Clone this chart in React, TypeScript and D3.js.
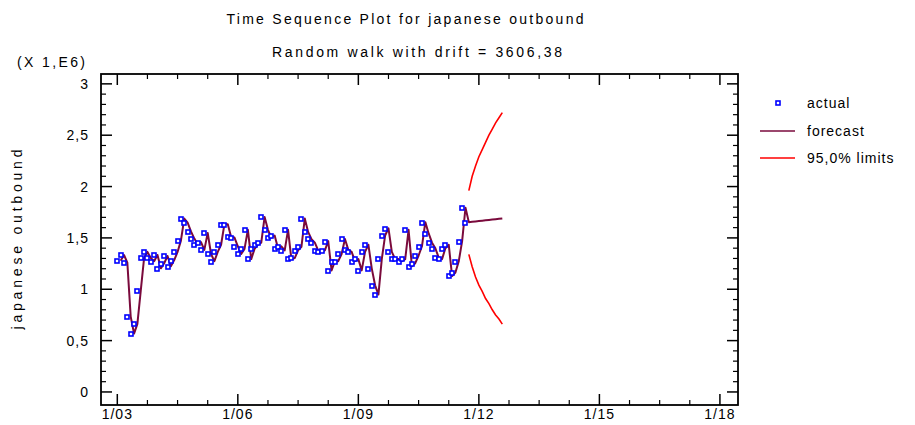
import React from "react";
import * as d3 from "d3";

// Monthly Japanese outbound travellers (millions), Jan 2003 – Sep 2011
const actual: number[] = [
  1.275, 1.33, 1.255, 0.73, 0.565, 0.66, 0.98, 1.3, 1.36, 1.3, 1.27, 1.33,
  1.2, 1.25, 1.32, 1.22, 1.28, 1.36, 1.47, 1.685, 1.645, 1.56, 1.49, 1.435,
  1.455, 1.38, 1.545, 1.34, 1.27, 1.36, 1.43, 1.63, 1.63, 1.505, 1.5, 1.415,
  1.34, 1.39, 1.575, 1.29, 1.39, 1.43, 1.45, 1.7, 1.575, 1.5, 1.52, 1.395,
  1.415, 1.375, 1.575, 1.29, 1.3, 1.375, 1.41, 1.685, 1.555, 1.485, 1.45, 1.375,
  1.36, 1.375, 1.465, 1.18, 1.27, 1.27, 1.34, 1.485, 1.38, 1.36, 1.27, 1.29,
  1.18, 1.36, 1.43, 1.2, 1.035, 0.945, 1.29, 1.52, 1.59, 1.36, 1.29, 1.29,
  1.27, 1.29, 1.575, 1.22, 1.25, 1.325, 1.415, 1.65, 1.54, 1.45, 1.395, 1.305,
  1.29, 1.395, 1.43, 1.125, 1.16, 1.27, 1.465, 1.79, 1.65,
];

// Random walk with drift (per month, in persons)
const drift = 3606.38;
const horizon = 11;

// 95% limits for the forecast months (millions)
const upperLimit: number[] = [1.96, 2.1, 2.2, 2.29, 2.36, 2.43, 2.5, 2.56, 2.62, 2.67, 2.72];
const lowerLimit: number[] = [1.34, 1.22, 1.12, 1.04, 0.98, 0.91, 0.86, 0.8, 0.75, 0.71, 0.66];

// x tick labels: January of every third year, months counted from Jan 2003
const xTickMonths: number[] = [0, 36, 72, 108, 144, 180];
const xTickLabels: string[] = ["1/03", "1/06", "1/09", "1/12", "1/15", "1/18"];
const yTicks: number[] = [0, 0.5, 1, 1.5, 2, 2.5, 3];

const legendItems: string[] = ["actual", "forecast", "95,0% limits"];

const FONT = "'Liberation Sans', Arial, Helvetica, sans-serif";
const BLUE = "#0000ff";
const MAROON = "#7a0a3c";
const RED = "#ff0000";

export default function App() {
  const W = 915;
  const H = 425;
  const left = 101;
  const right = 738;
  const top = 74;
  const bottom = 405;

  const x = d3.scaleLinear().domain([-4.87, 185.4]).range([left, right]);
  const y = d3.scaleLinear().domain([-0.127, 3.096]).range([bottom, top]);

  const d = drift / 1e6;
  const n = actual.length;

  // one-step-ahead forecasts over the history, then the forecast horizon
  const fitted: [number, number][] = [];
  for (let i = 1; i < n; i++) fitted.push([i, actual[i - 1] + d]);
  for (let k = 1; k <= horizon; k++) fitted.push([n - 1 + k, actual[n - 1] + k * d]);

  const upper: [number, number][] = upperLimit.map((v, k) => [n + k, v]);
  const lower: [number, number][] = lowerLimit.map((v, k) => [n + k, v]);

  const line = d3
    .line<[number, number]>()
    .x((p) => x(p[0]))
    .y((p) => y(p[1]));

  const yMinor = d3.range(0, 3.0001, 0.1).filter((v) => Math.abs(v * 2 - Math.round(v * 2)) > 1e-6);
  const xMinor = d3.range(9, 181, 9).filter((m) => m % 36 !== 0);

  const fmt = (v: number) => (Number.isInteger(v) ? String(v) : String(v).replace(".", ","));

  const majorLen = 11;
  const minorLen = 5;

  const legendRows = [103, 131, 158];

  return (
    <svg width={W} height={H} style={{ display: "block", position: "absolute", left: 0, top: 0 }}>
      <rect width={W} height={H} fill="#ffffff" />

      {/* titles */}
      <text x={405} y={24} fontFamily={FONT} fontSize={14} textAnchor="middle" textLength={357} lengthAdjust="spacing" fill="#000">
        Time Sequence Plot for japanese outbound
      </text>
      <text x={417} y={57} fontFamily={FONT} fontSize={14} textAnchor="middle" textLength={290} lengthAdjust="spacing" fill="#000">
        Random walk with drift = 3606,38
      </text>
      <text x={17} y={67} fontFamily={FONT} fontSize={14} textLength={68} lengthAdjust="spacing" fill="#000">
        (X 1,E6)
      </text>

      {/* y axis title */}
      <text
        transform={`translate(22,${(top + bottom) / 2}) rotate(-90)`}
        fontFamily={FONT}
        fontSize={14}
        textAnchor="middle"
        textLength={180}
        lengthAdjust="spacing"
        fill="#000"
      >
        japanese outbound
      </text>

      {/* y ticks and labels */}
      {yTicks.map((v) => (
        <g key={`y${v}`}>
          <line x1={left} x2={left + majorLen} y1={y(v)} y2={y(v)} stroke="#000" strokeWidth={1.5} />
          <line x1={right} x2={right - majorLen} y1={y(v)} y2={y(v)} stroke="#000" strokeWidth={1.5} />
          <text x={89} y={y(v) + 5} fontFamily={FONT} fontSize={14} textAnchor="end" letterSpacing={1} fill="#000">
            {fmt(v)}
          </text>
        </g>
      ))}
      {yMinor.map((v) => (
        <g key={`ym${v}`}>
          <line x1={left} x2={left + minorLen} y1={y(v)} y2={y(v)} stroke="#000" strokeWidth={1.2} />
          <line x1={right} x2={right - minorLen} y1={y(v)} y2={y(v)} stroke="#000" strokeWidth={1.2} />
        </g>
      ))}

      {/* x ticks and labels */}
      {xTickMonths.map((m, i) => (
        <g key={`x${m}`}>
          <line x1={x(m)} x2={x(m)} y1={bottom} y2={bottom - majorLen} stroke="#000" strokeWidth={1.5} />
          <line x1={x(m)} x2={x(m)} y1={top} y2={top + majorLen} stroke="#000" strokeWidth={1.5} />
          <text x={x(m)} y={419} fontFamily={FONT} fontSize={14} textAnchor="middle" letterSpacing={1} fill="#000">
            {xTickLabels[i]}
          </text>
        </g>
      ))}
      {xMinor.map((m) => (
        <g key={`xm${m}`}>
          <line x1={x(m)} x2={x(m)} y1={bottom} y2={bottom - minorLen} stroke="#000" strokeWidth={1.2} />
          <line x1={x(m)} x2={x(m)} y1={top} y2={top + minorLen} stroke="#000" strokeWidth={1.2} />
        </g>
      ))}

      {/* frame */}
      <rect x={left} y={top} width={right - left} height={bottom - top} fill="none" stroke="#000" strokeWidth={1.8} />

      {/* limits */}
      <path d={line(upper) ?? ""} fill="none" stroke={RED} strokeWidth={1.6} />
      <path d={line(lower) ?? ""} fill="none" stroke={RED} strokeWidth={1.6} />

      {/* forecast */}
      <path d={line(fitted) ?? ""} fill="none" stroke={MAROON} strokeWidth={2} strokeLinejoin="round" />

      {/* actual */}
      {actual.map((v, i) => (
        <rect
          key={`a${i}`}
          x={Math.round(x(i)) - 2}
          y={Math.round(y(v)) - 2}
          width={4}
          height={4}
          fill="#ffffff"
          stroke={BLUE}
          strokeWidth={1.6}
        />
      ))}

      {/* legend */}
      <rect x={776} y={legendRows[0] - 2} width={4} height={4} fill="#ffffff" stroke={BLUE} strokeWidth={1.6} />
      <line x1={760} x2={795} y1={legendRows[1]} y2={legendRows[1]} stroke={MAROON} strokeWidth={1.5} />
      <line x1={760} x2={795} y1={legendRows[2]} y2={legendRows[2]} stroke={RED} strokeWidth={1.5} />
      {legendItems.map((t, i) => (
        <text key={t} x={807} y={legendRows[i] + 5} fontFamily={FONT} fontSize={14} letterSpacing={1} fill="#000">
          {t}
        </text>
      ))}
    </svg>
  );
}
